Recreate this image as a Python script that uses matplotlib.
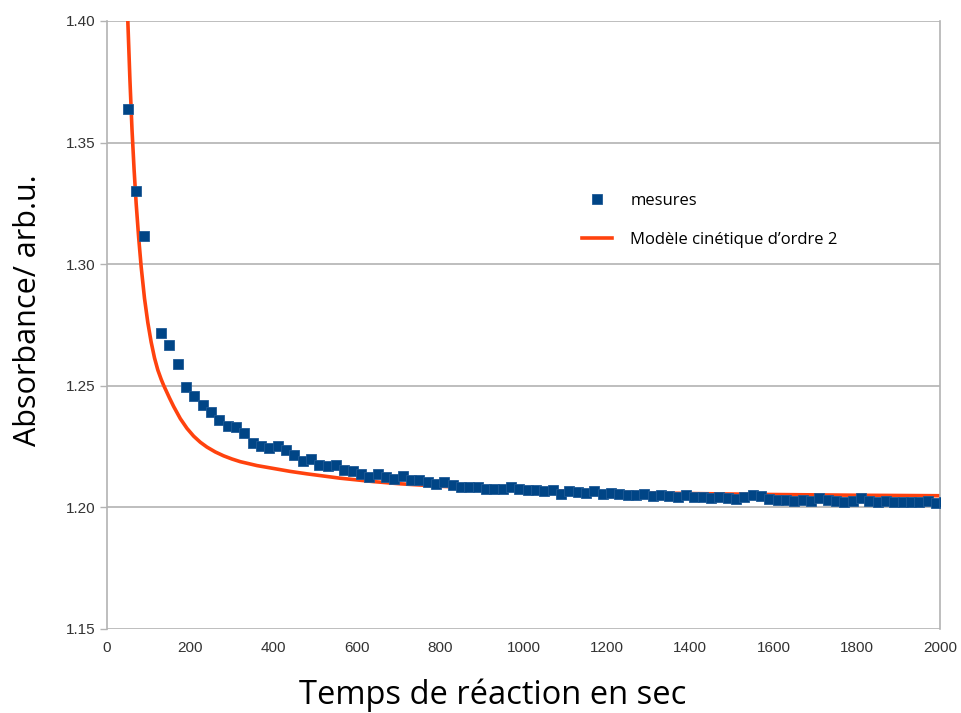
import numpy as np
import matplotlib.pyplot as plt

# absorbance measurements (s, arb.u.)
t_mes = [50, 70, 90] + list(range(130, 2011, 20))
a_mes = [1.3637, 1.3300, 1.3118,
         1.2719, 1.2667, 1.2591, 1.2495, 1.2458, 1.2420, 1.2392, 1.2358,
         1.2335, 1.2329, 1.2305, 1.2266, 1.2252, 1.2244, 1.2252, 1.2235,
         1.2217, 1.2189, 1.2198, 1.2176, 1.2169, 1.2176, 1.2152, 1.2149,
         1.2139, 1.2125, 1.2136, 1.2125, 1.2118, 1.2129, 1.2111, 1.2111,
         1.2104, 1.2097, 1.2104, 1.2091, 1.2084, 1.2084, 1.2084, 1.2077,
         1.2077, 1.2077, 1.2084, 1.2074, 1.2070, 1.2070, 1.2066, 1.2070,
         1.2056, 1.2066, 1.2063, 1.2060, 1.2066, 1.2056, 1.2060, 1.2056,
         1.2052, 1.2049, 1.2056, 1.2045, 1.2049, 1.2045, 1.2042, 1.2049,
         1.2042, 1.2042, 1.2038, 1.2042, 1.2038, 1.2035, 1.2042, 1.2052,
         1.2045, 1.2035, 1.2031, 1.2031, 1.2028, 1.2031, 1.2028, 1.2038,
         1.2031, 1.2028, 1.2024, 1.2028, 1.2038, 1.2028, 1.2024, 1.2028,
         1.2024, 1.2021, 1.2024, 1.2021, 1.2028, 1.2017, 1.2021]

# second order kinetic model
t_mod = [46, 50, 55, 60, 65, 70, 76, 82, 90, 98, 106, 114, 122, 130, 136,
         150, 160, 176, 192, 208, 224, 240, 260, 280, 300, 320, 360, 400,
         440, 480, 560, 640, 704, 800, 1000, 1200, 1400, 1600, 1800, 2000]
a_mod = [1.4210, 1.4000, 1.3760, 1.3555, 1.3390, 1.3250, 1.3110, 1.2990,
         1.2860, 1.2760, 1.2680, 1.2615, 1.2565, 1.2527, 1.2502, 1.2450,
         1.2415, 1.2365, 1.2325, 1.2293, 1.2268, 1.2248, 1.2228, 1.2212,
         1.2199, 1.2188, 1.2172, 1.2160, 1.2148, 1.2138, 1.2120, 1.2106,
         1.2097, 1.2087, 1.2072, 1.2063, 1.2057, 1.2053, 1.2050, 1.2048]

fig = plt.figure(figsize=(9.62, 7.13), dpi=100)
ax = fig.add_axes([107/962, 1 - 629/713, 833/962, 608/713])

ax.plot(t_mes, a_mes, 's', color='#004586', markersize=6.5,
        markeredgecolor='#1f5a96', markeredgewidth=0.6, label='mesures', zorder=3)
ax.plot(t_mod, a_mod, '-', color='#ff420e', linewidth=2.6,
        label='Modèle cinétique d\u2019ordre 2', zorder=2)

ax.set_xlim(0, 2000)
ax.set_ylim(1.15, 1.40)
ax.set_xticks(range(0, 2001, 200))
ax.set_yticks(np.arange(1.15, 1.401, 0.05))
ax.yaxis.set_major_formatter(plt.FormatStrFormatter('%.2f'))
ax.grid(axis='y', color='#b3b3b3', linewidth=1.2)
ax.set_axisbelow(True)
for side in ['top', 'bottom']:
    ax.spines[side].set_visible(False)
for side in ['left', 'right']:
    ax.spines[side].set_color('#b3b3b3')
    ax.spines[side].set_linewidth(1.2)
ax.tick_params(axis='both', colors='#b3b3b3', labelcolor='#333333',
               labelsize=11, length=5, width=1)
ax.tick_params(axis='x', length=0, pad=9)
for lab in ax.get_xticklabels() + ax.get_yticklabels():
    lab.set_family('Liberation Sans')

leg = ax.legend(loc='upper left', bbox_to_anchor=(0.552, 0.742), frameon=False,
                prop={'family': 'Open Sans', 'size': 12}, handlelength=1.8,
                labelspacing=1.4, handletextpad=1.1)

fig.text(493/962, 1 - 695/713, 'Temps de réaction en sec', ha='center',
         va='center', fontsize=23.5, family='Open Sans')
fig.text(28/962, 1 - 310/713, 'Absorbance/ arb.u.', ha='center', va='center',
         rotation=90, fontsize=22, family='Open Sans')

fig.savefig('out.png', dpi=100)
